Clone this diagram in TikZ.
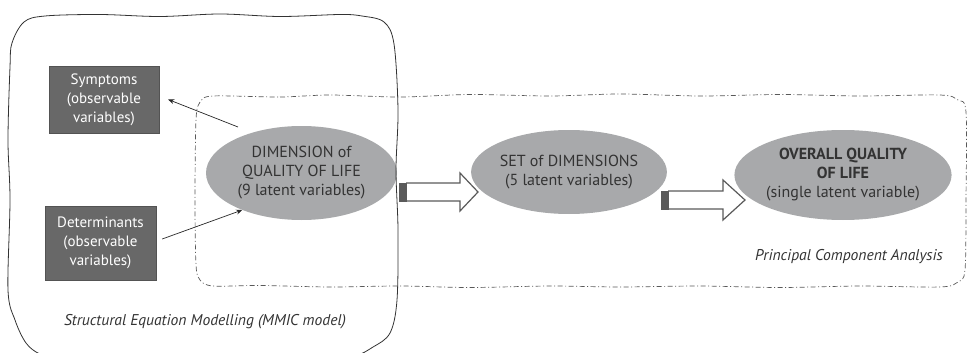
\documentclass[tikz,border=0pt]{standalone}
\usepackage{fontspec}
\setmainfont{PT Sans}
\usetikzlibrary{shapes.geometric,arrows.meta}
\definecolor{boxgray}{HTML}{686868}
\definecolor{ellgray}{HTML}{A8A9AB}
\definecolor{txtgray}{HTML}{333333}
\definecolor{arrgray}{HTML}{5A5A5A}
\tikzset{
  obsbox/.style={rectangle, fill=boxgray, draw=boxgray!80!black, line width=0.4pt, text=white, align=center, inner sep=0pt, font=\fontsize{15}{19}\selectfont},
  latent/.style={ellipse, fill=ellgray, draw=none, text=txtgray, align=center, inner sep=0pt, font=\fontsize{16}{19}\selectfont},
  conn/.style={draw=black!85, line width=0.7pt, -{Stealth[length=6pt,width=5pt]}},
  hollow/.style={fill=white, draw=arrgray, line width=1.2pt, line join=miter},
  tailblock/.style={fill=arrgray, draw=arrgray, line width=0.8pt},
  lbl/.style={text=txtgray, font=\itshape\fontsize{15.6}{18}\selectfont, inner sep=0pt},
  outerframe/.style={draw=black!80, line width=0.8pt},
  innerframe/.style={draw=black!65, line width=0.7pt, dash pattern=on 5pt off 2.5pt on 1pt off 2.5pt}
}
\begin{document}
\begin{tikzpicture}[x=1pt, y=-1pt]
\useasboundingbox (0,0) rectangle (969,353);
% inner dash-dot frame
\draw[innerframe] plot[smooth cycle, tension=0.5] coordinates {
  (213,96) (280,97) (330,95) (400,97) (470,94.5) (550,96) (620,94) (700,96)
  (780,94.5) (860,96) (940,95) (958,100) (966,112)
  (966,200) (965,270) (958,282) (940,287)
  (860,286) (780,287.5) (700,286) (620,287) (550,286) (470,287.5) (400,286) (330,287) (260,285.5) (213,286)
  (200,280) (196,265) (195,200) (196,120) (200,102)};

% nodes
\node[obsbox, minimum width=110pt, minimum height=67pt] (sym) at (104,99.5) {Symptoms\\(observable\\variables)};
\node[obsbox, minimum width=111pt, minimum height=74pt] (det) at (100.5,243) {Determinants\\(observable\\variables)};
\node[latent, minimum width=191pt, minimum height=94pt] (e1) at (301.5,173) {DIMENSION of\\QUALITY OF LIFE\\(9 latent variables)};
\node[latent, minimum width=192pt, minimum height=84pt] (e2) at (569,172) {SET of DIMENSIONS\\(5 latent variables)};
\node[latent, minimum width=213pt, minimum height=90pt] (e3) at (843,175) {\textbf{OVERALL QUALITY}\\\textbf{OF LIFE}\\(single latent variable)};

% outer hand-drawn frame (drawn over the first ellipse's edge)
\draw[outerframe] plot[smooth cycle, tension=0.55] coordinates {
  (45,16) (100,14.5) (160,16.5) (220,14) (280,16.5) (340,14.5) (362,16)
  (384,22) (394,44) (398,110) (396,170) (398,230) (397,300)
  (390,333) (373,347) (352,356) (300,358) (220,359) (140,358) (60,358)
  (40,354) (26,343) (15,320) (8,290) (10,200) (8,140) (10,67) (12,43) (24,22)};

% connectors
\coordinate (s1) at (238,127);
\draw[conn] (s1) -- ([xshift=9pt]sym.east);
\draw[conn] ([shift={(6pt,4pt)}]det.east) -- (e1.212);

% hollow arrows e1 -> e2 and e2 -> e3
\draw[hollow] (406,183) -- (460,183) -- (460,173) -- (478,192) -- (460,211) -- (460,201) -- (406,201);
\draw[tailblock] (399,183) rectangle (406,201);
\draw[hollow] (668,191) -- (723,191) -- (723,180) -- (745,200) -- (723,220) -- (723,209) -- (668,209);
\draw[tailblock] (661,191) rectangle (668,209);

% labels
\node[lbl] (sem) at (205,322) {Structural Equation Modelling (MMIC model)};
\node[lbl] (pca) at (849,257) {Principal Component Analysis};
\end{tikzpicture}
\end{document}
